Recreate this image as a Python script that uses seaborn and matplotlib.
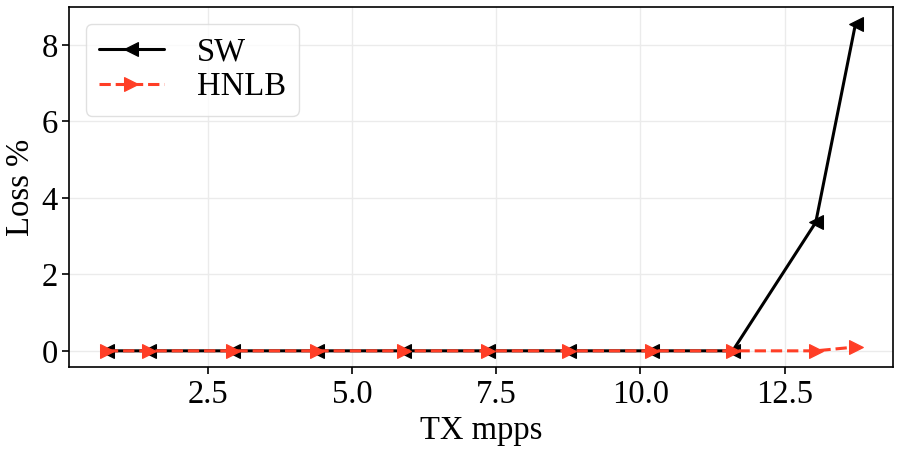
"""
Loss vs TX rate, SW vs HNLB
"""
import pandas as pd
import matplotlib
matplotlib.use("Agg")
import matplotlib.pyplot as plt
from matplotlib.ticker import MultipleLocator, FormatStrFormatter
import seaborn as sns

# data
tx_mpps = [0.75, 1.48, 2.94, 4.39, 5.9, 7.35, 8.77, 10.2, 11.6, 13.04, 13.73]
sw_loss = [0, 0, 0, 0, 0, 0, 0, 0, 0, 3.36, 8.56]
hnlb_loss = [0, 0, 0, 0, 0, 0, 0, 0, 0, 0, 0.1]

sns.set_style("ticks")
plt.rcParams['font.family'] = ['Liberation Serif', 'DejaVu Serif']
plt.rcParams['font.size'] = 23.5
plt.rcParams['text.color'] = 'black'
plt.rcParams['axes.labelcolor'] = 'black'
plt.rcParams['xtick.color'] = 'black'
plt.rcParams['ytick.color'] = 'black'
plt.rcParams['axes.edgecolor'] = 'black'

df = pd.DataFrame({'tx': tx_mpps, 'SW': sw_loss, 'HNLB': hnlb_loss})

fig, ax = plt.subplots(figsize=(9.02, 4.5), dpi=100)

sns.lineplot(data=df, x='tx', y='SW', ax=ax, color='black', marker='<',
             markersize=10, linewidth=2.2, markeredgecolor='black',
             label='SW', sort=False)
sns.lineplot(data=df, x='tx', y='HNLB', ax=ax, color='#FF3E26', marker='>',
             markersize=10, linewidth=2.2, linestyle='--',
             markeredgecolor='#FF3E26', label='HNLB', sort=False)

ax.xaxis.set_major_locator(MultipleLocator(2.5))
ax.xaxis.set_major_formatter(FormatStrFormatter('%.1f'))
ax.grid(True, color='#ebebeb', linewidth=1)
ax.set_axisbelow(True)
ax.set_xlabel('TX mpps', fontsize=23.5)
ax.set_ylabel('Loss %', fontsize=23.5)
ax.tick_params(labelsize=23.5, length=5, width=1.2)
for s in ax.spines.values():
    s.set_linewidth(1.2)

leg = ax.legend(loc='upper left', fontsize=23.5, handlelength=2.0,
                labelspacing=0.15, handletextpad=1.0)
leg.get_frame().set_edgecolor('#d9d9d9')

plt.subplots_adjust(left=0.077, right=0.99, top=0.984, bottom=0.184)
plt.savefig('out.png', dpi=100)
